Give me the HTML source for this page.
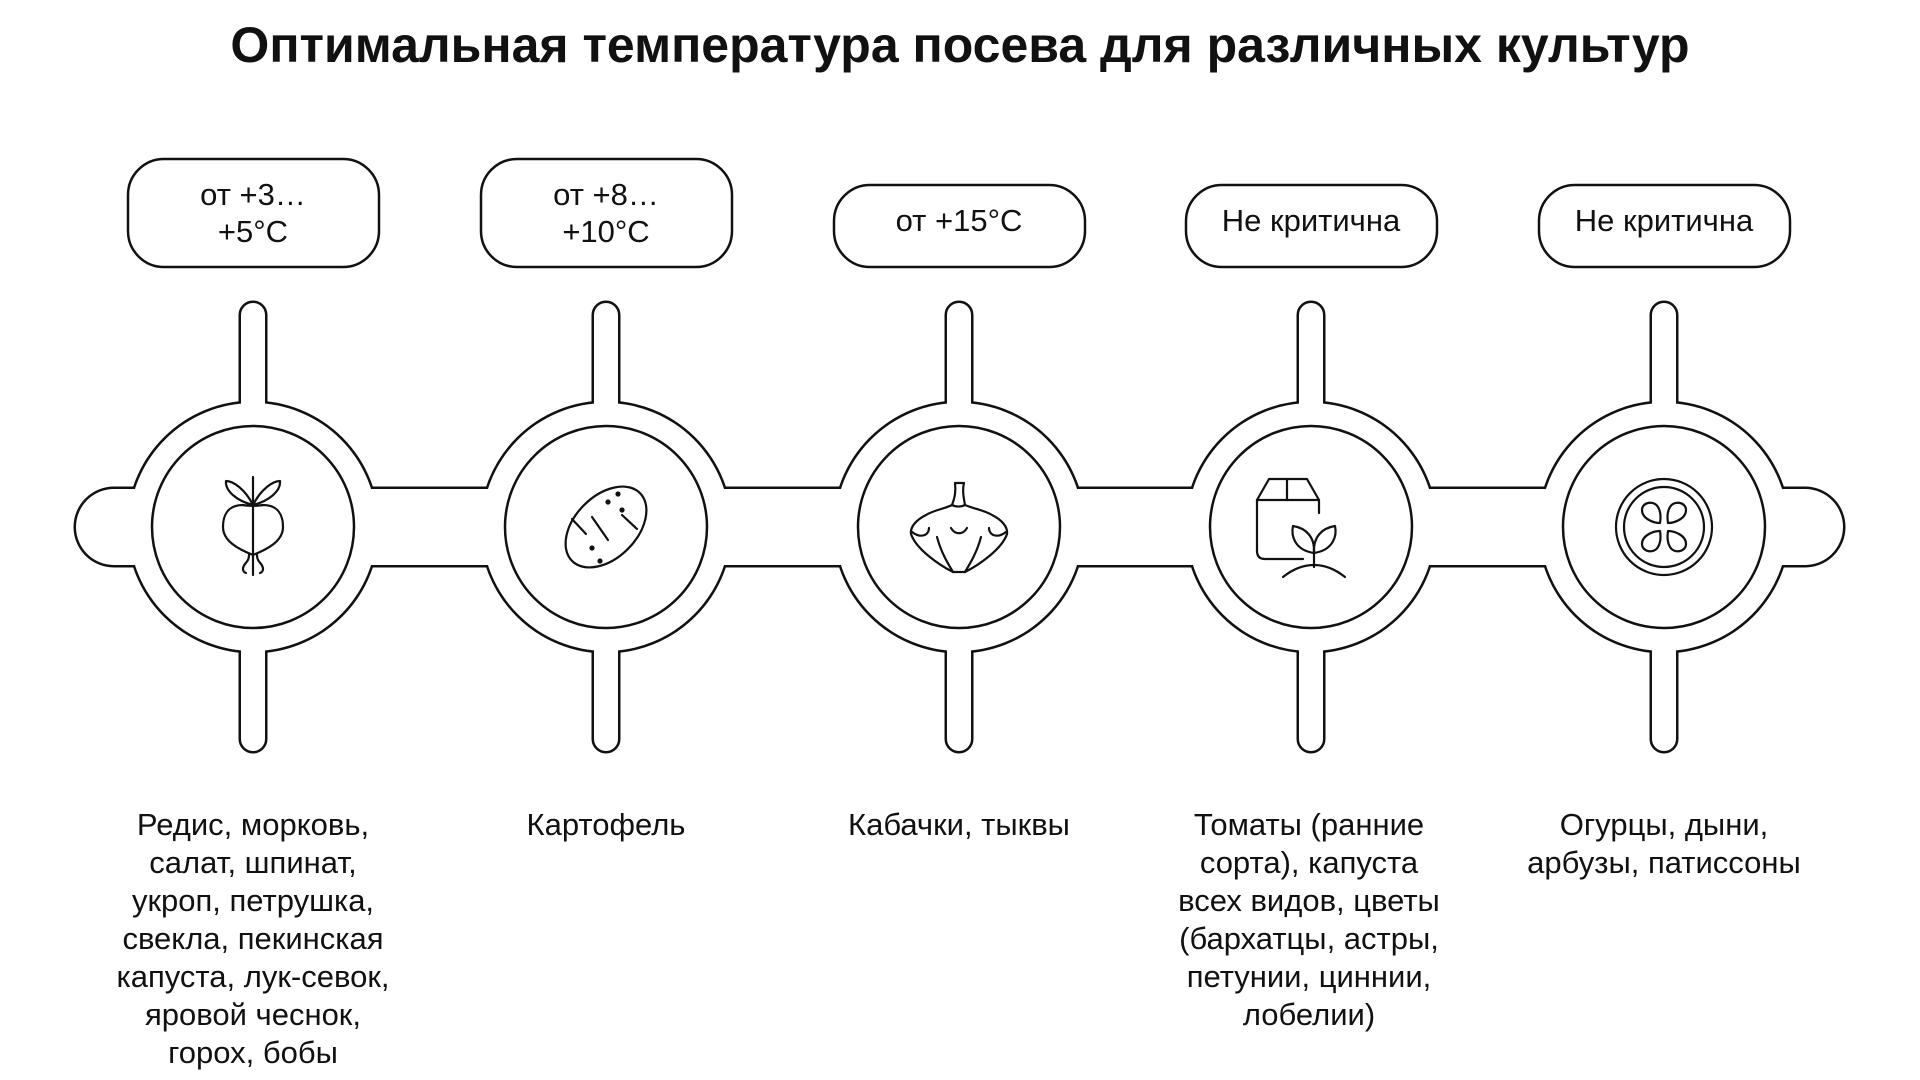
<!DOCTYPE html>
<html><head><meta charset="utf-8"><style>
html,body{margin:0;padding:0;background:#fff;}
body{width:1920px;height:1080px;overflow:hidden;position:relative;font-family:"Liberation Sans",sans-serif;color:#111;}
svg{position:absolute;left:0;top:0;}
</style></head><body>
<svg width="1920" height="1080" viewBox="0 0 1920 1080" xmlns="http://www.w3.org/2000/svg">
<text x="960" y="62" text-anchor="middle" font-family="Liberation Sans, sans-serif" font-weight="bold" font-size="50" fill="#111">Оптимальная температура посева для различных культур</text>

<defs>
<g id="shape">
  <rect x="76" y="489" width="1767" height="76" rx="38"/>
  <rect x="241" y="303" width="24" height="200" rx="12"/>
  <rect x="241" y="560" width="24" height="191" rx="12"/>
  <circle cx="253" cy="527" r="124"/>
  <rect x="594" y="303" width="24" height="200" rx="12"/>
  <rect x="594" y="560" width="24" height="191" rx="12"/>
  <circle cx="606" cy="527" r="124"/>
  <rect x="947" y="303" width="24" height="200" rx="12"/>
  <rect x="947" y="560" width="24" height="191" rx="12"/>
  <circle cx="959" cy="527" r="124"/>
  <rect x="1299" y="303" width="24" height="200" rx="12"/>
  <rect x="1299" y="560" width="24" height="191" rx="12"/>
  <circle cx="1311" cy="527" r="124"/>
  <rect x="1652" y="303" width="24" height="200" rx="12"/>
  <rect x="1652" y="560" width="24" height="191" rx="12"/>
  <circle cx="1664" cy="527" r="124"/>
</g>
</defs>
<use href="#shape" fill="#111" stroke="#111" stroke-width="5"/>
<use href="#shape" fill="#fff" stroke="none"/>

<g fill="none" stroke="#111" stroke-width="2.5">
  <circle cx="253" cy="527" r="101"/>
  <circle cx="606" cy="527" r="101"/>
  <circle cx="959" cy="527" r="101"/>
  <circle cx="1311" cy="527" r="101"/>
  <circle cx="1664" cy="527" r="101"/>

  <rect x="128" y="159" width="251" height="108" rx="36"/>
  <rect x="481" y="159" width="251" height="108" rx="36"/>
  <rect x="834" y="185" width="251" height="82" rx="36"/>
  <rect x="1186" y="185" width="251" height="82" rx="36"/>
  <rect x="1539" y="185" width="251" height="82" rx="36"/>
</g>

<g fill="none" stroke="#111" stroke-width="2.2" stroke-linecap="round" stroke-linejoin="round">
  <g transform="translate(253,527)">
    <line x1="0" y1="-50" x2="0" y2="48"/>
    <path d="M0,-22 C-8,-38 -20,-46 -27,-46 C-28,-36 -16,-26 0,-22Z"/>
    <path d="M0,-22 C8,-38 20,-46 27,-46 C28,-36 16,-26 0,-22Z"/>
    <path d="M-10,-22 C-25,-22 -30,-12 -30,0 C-30,14 -15,22 0,28 C15,22 30,14 30,0 C30,-12 25,-22 10,-22 C5,-21 -5,-21 -10,-22Z"/>
    <path d="M-4,28 C-4,36 -10,36 -10,42 C-10,45 -7,46 -7,46"/>
    <path d="M4,28 C4,36 10,36 10,42 C10,45 7,46 7,46"/>
  </g>
  <g transform="translate(606,527)">
    <ellipse cx="0" cy="0" rx="48" ry="31" transform="rotate(-45)"/>
    <path d="M-34,-8 L-20,7"/>
    <path d="M-14,-10 L2,13"/>
    <path d="M16,-12 L31,2"/>
  </g>
  <g fill="#111" stroke="none">
    <circle cx="618" cy="494" r="2.6"/><circle cx="608" cy="502" r="2.6"/><circle cx="622" cy="510" r="2.6"/>
    <circle cx="592" cy="548" r="2.6"/><circle cx="600" cy="561" r="2.6"/>
  </g>
  <g transform="translate(959,527)">
    <path d="M-7,-22 C-4,-30 -3,-36 -4,-44 L5,-44 C3,-36 5,-28 6,-22"/>
    <path d="M-7,-22 C-15,-18 -25,-17 -33,-12 C-43,-7 -49,0 -48,7 C-43,22 -20,38 -6,45 L6,45 C20,38 43,22 48,7 C49,0 43,-7 33,-12 C25,-17 15,-18 6,-22 C2,-20 -3,-20 -7,-22Z"/>
    <path d="M-47,5 C-38,12 -30,8 -30,1"/>
    <path d="M47,5 C38,12 30,8 30,1"/>
    <path d="M-8,1 C-4,8 4,8 8,1"/>
    <path d="M-22,10 C-18,25 -12,35 -6,45"/>
    <path d="M22,10 C18,25 12,35 6,45"/>
  </g>
  <g transform="translate(1311,527)">
    <path d="M-8,32 L-46,32 Q-54,32 -54,24 L-54,-27"/>
    <path d="M-54,-27 L-42,-48 L-4,-48 L8,-27 L8,-14"/>
    <line x1="-54" y1="-27" x2="8" y2="-27"/>
    <line x1="-24" y1="-48" x2="-24" y2="-27"/>
    <path d="M3,40 L3,26"/>
    <path d="M3,26 C-17,23 -20,8 -18,-1 C-5,1 4,10 3,26Z"/>
    <path d="M3,26 C23,23 26,8 24,-1 C11,1 2,10 3,26Z"/>
    <path d="M-28,50 C-8,34 14,34 34,50"/>
  </g>
  <g transform="translate(1664,527)">
    <circle r="48"/>
    <circle r="40"/>
    <path d="M-4,-4 C-10,-4 -22,-8 -22,-17 C-22,-25 -10,-27 -6,-20 C-3,-15 -3,-10 -4,-4Z"/>
    <path d="M4,-4 C10,-4 22,-8 22,-17 C22,-25 10,-27 6,-20 C3,-15 3,-10 4,-4Z"/>
    <path d="M-4,4 C-10,4 -22,8 -22,17 C-22,25 -10,27 -6,20 C-3,15 -3,10 -4,4Z"/>
    <path d="M4,4 C10,4 22,8 22,17 C22,25 10,27 6,20 C3,15 3,10 4,4Z"/>
  </g>
</g>

<g font-family="Liberation Sans, sans-serif" font-size="31" fill="#111" text-anchor="middle" textLength="">
  <text x="253" y="205">от +3…</text>
  <text x="253" y="242">+5°C</text>
  <text x="606" y="205">от +8…</text>
  <text x="606" y="242">+10°C</text>
  <text x="959" y="231">от +15°C</text>
  <text x="1311" y="231">Не критична</text>
  <text x="1664" y="231">Не критична</text>

  <text x="253" y="835">Редис, морковь,</text>
  <text x="253" y="873">салат, шпинат,</text>
  <text x="253" y="911">укроп, петрушка,</text>
  <text x="253" y="949">свекла, пекинская</text>
  <text x="253" y="987">капуста, лук-севок,</text>
  <text x="253" y="1025">яровой чеснок,</text>
  <text x="253" y="1063">горох, бобы</text>

  <text x="606" y="835">Картофель</text>
  <text x="959" y="835">Кабачки, тыквы</text>

  <text x="1309" y="835">Томаты (ранние</text>
  <text x="1309" y="873">сорта), капуста</text>
  <text x="1309" y="911">всех видов, цветы</text>
  <text x="1309" y="949">(бархатцы, астры,</text>
  <text x="1309" y="987">петунии, циннии,</text>
  <text x="1309" y="1025">лобелии)</text>

  <text x="1664" y="835">Огурцы, дыни,</text>
  <text x="1664" y="873">арбузы, патиссоны</text>
</g>
</svg>
</body></html>
